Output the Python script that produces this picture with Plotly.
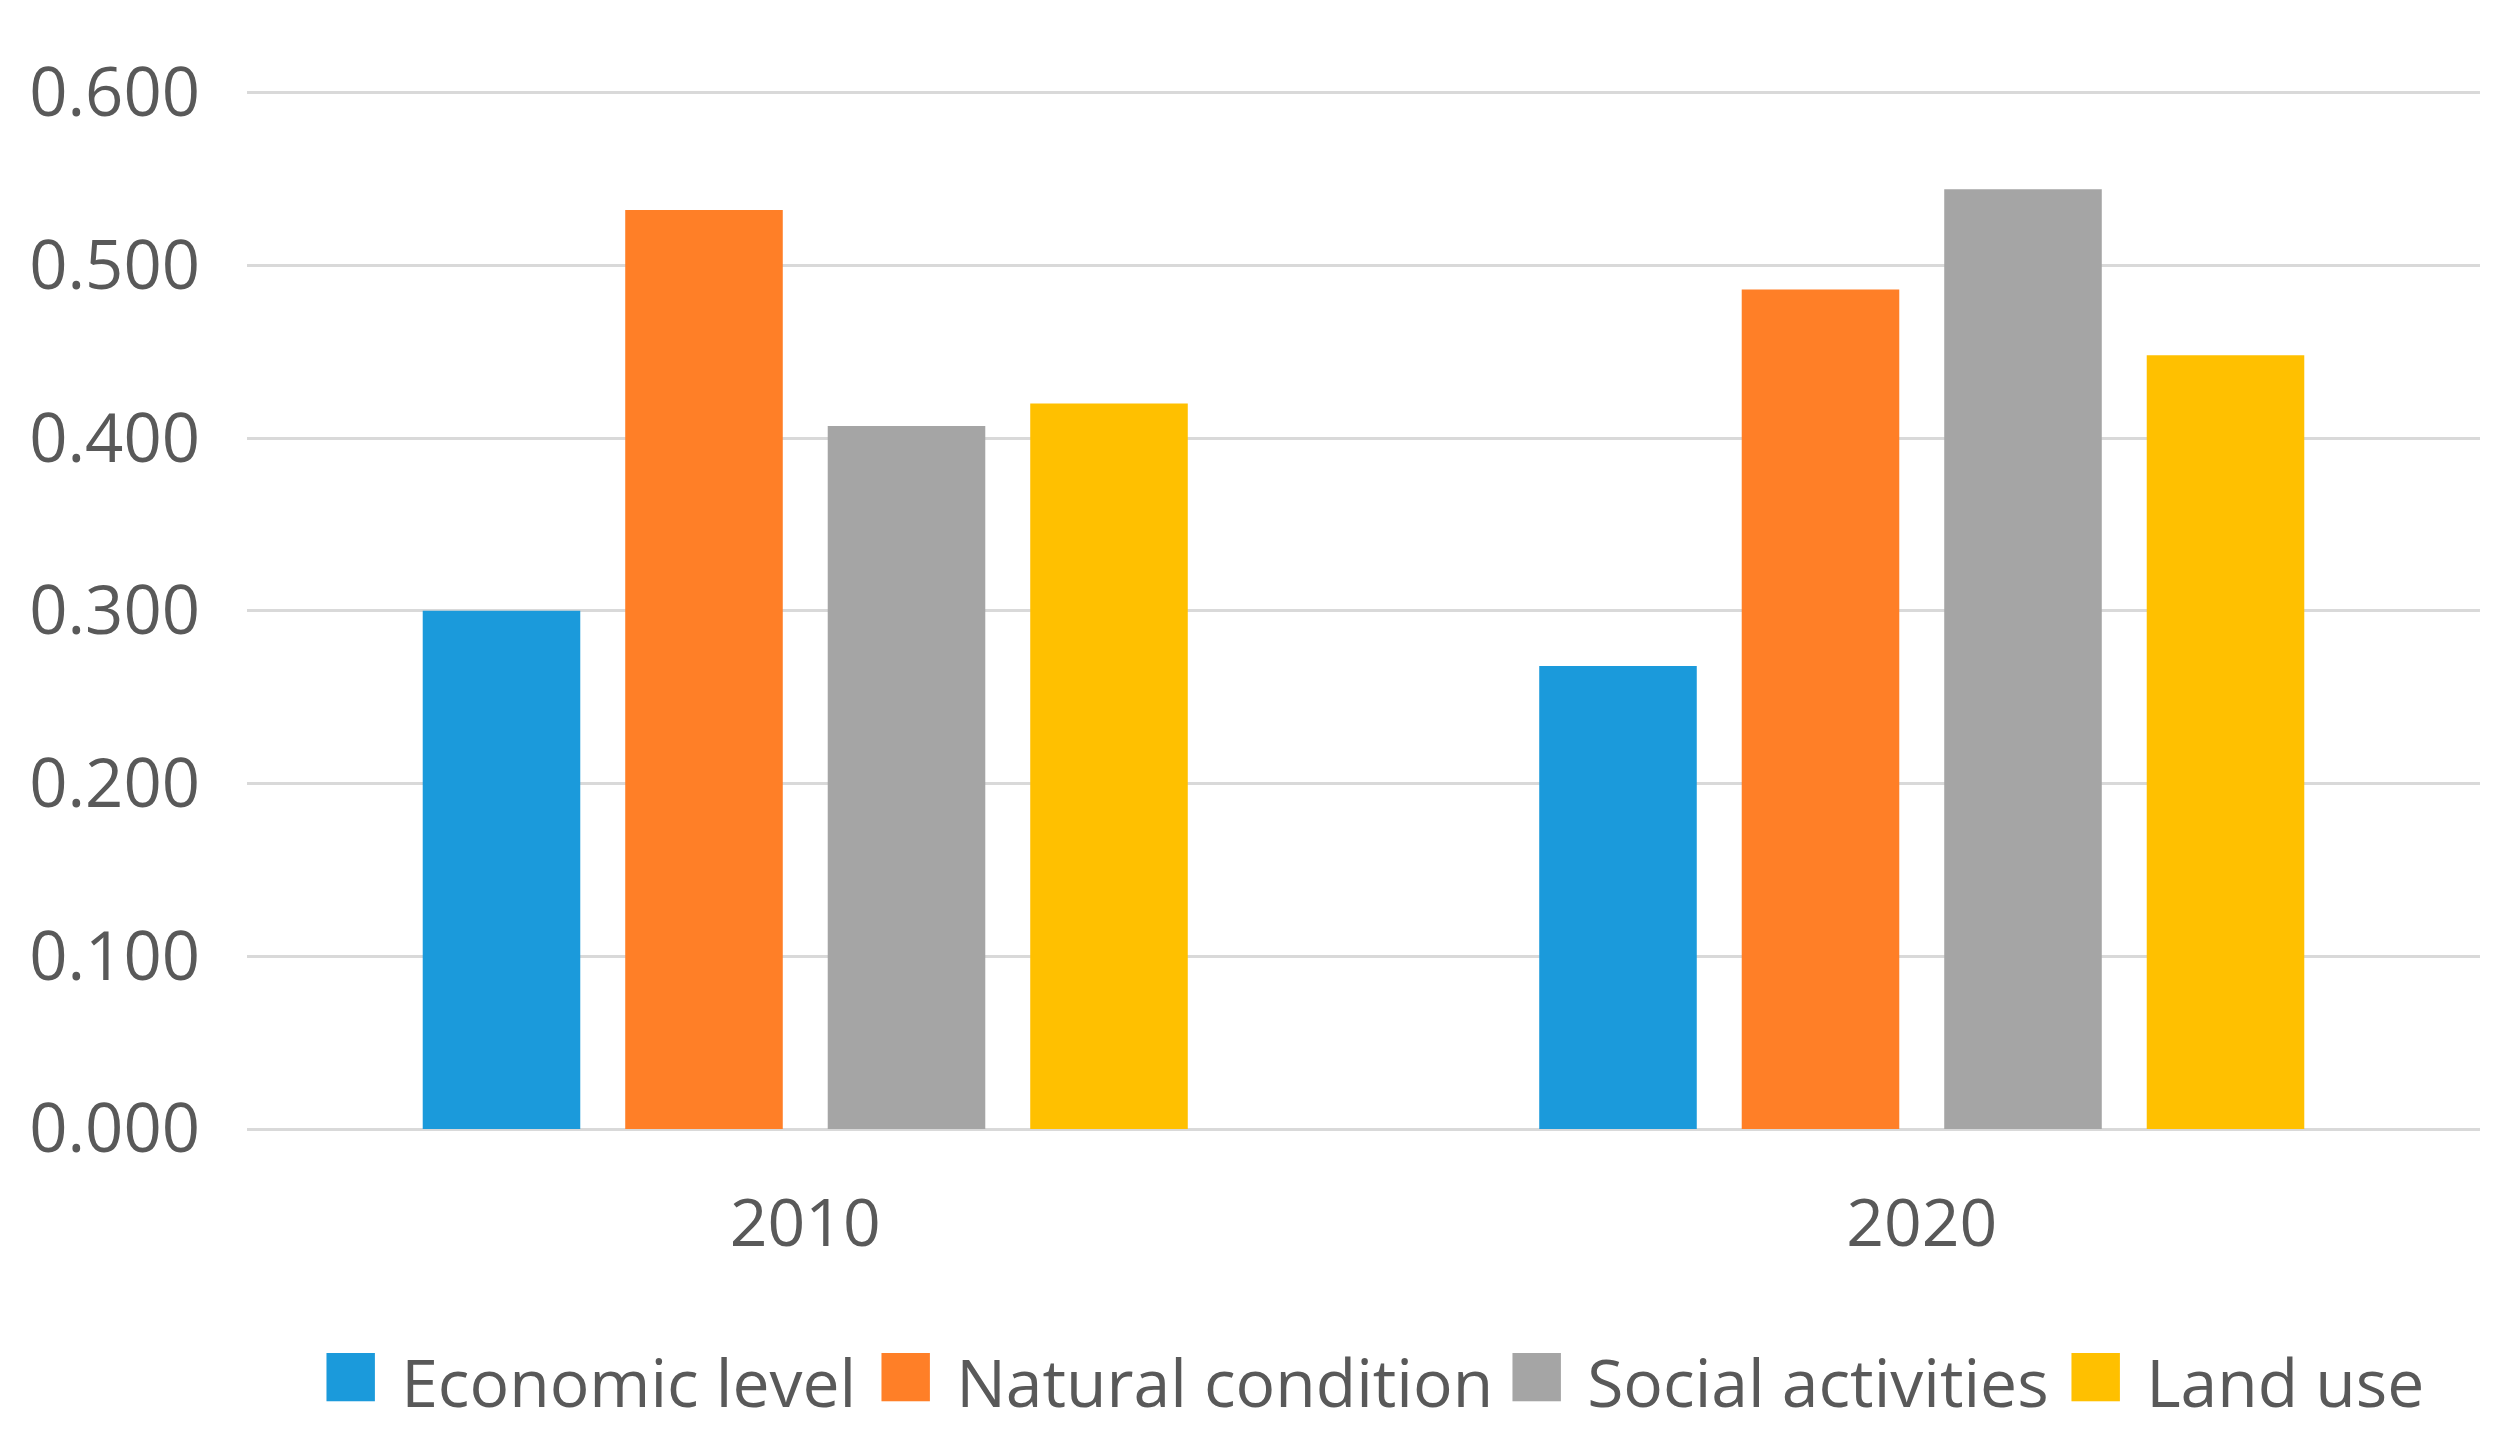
import plotly.graph_objects as go

years = ["2010", "2020"]
series_names = ["Economic level", "Natural condition", "Social activities", "Land use"]
economic_level = [0.300, 0.268]
natural_condition = [0.532, 0.486]
social_activities = [0.407, 0.544]
land_use = [0.420, 0.448]
y_ticks = [0.0, 0.1, 0.2, 0.3, 0.4, 0.5, 0.6]
y_tick_labels = ["0.000", "0.100", "0.200", "0.300", "0.400", "0.500", "0.600"]

colors = ["#1B9ADB", "#FF7F27", "#A5A5A5", "#FFC000"]
values = [economic_level, natural_condition, social_activities, land_use]
legend_entry_widths = [510, 586, 514, 360]  # px, layout only

FONT = "Open Sans"
TEXT_COLOR = "#595959"

fig = go.Figure()
for name, vals, col in zip(series_names, values, colors):
    fig.add_trace(go.Bar(x=years, y=vals, name=name, legendgroup=name, showlegend=False,
                         marker=dict(color=col, line=dict(width=0))))
# legend entries (large square key drawn as a coloured glyph in the entry text)
for name, col, lw in zip(series_names, colors, legend_entry_widths):
    fig.add_trace(go.Scatter(
        x=[None], y=[None], mode="markers", legendgroup=name, legendwidth=lw,
        name=(f'<span style="color:{col};font-size:100px">■</span>'
              f'<span style="font-size:78px"> </span>{name}'),
        marker=dict(color="rgba(0,0,0,0)", size=1), hoverinfo="skip"))

fig.update_layout(
    width=2509,
    height=1435,
    paper_bgcolor="white",
    plot_bgcolor="white",
    barmode="group",
    bargap=0.2745,
    bargroupgap=0.222,
    margin=dict(l=239, r=37, t=82, b=308),
    font=dict(family=FONT, size=66, color=TEXT_COLOR),
    showlegend=True,
    legend=dict(
        orientation="h",
        x=0.015, xanchor="left",
        y=-0.243, yanchor="middle",
        font=dict(family=FONT, size=66, color=TEXT_COLOR),
        itemwidth=30,
        traceorder="normal",
    ),
)
fig.update_xaxes(
    showgrid=False,
    showline=False,
    ticks="",
    ticklabelstandoff=50,
    tickfont=dict(family=FONT, size=66, color=TEXT_COLOR),
)
fig.update_yaxes(
    range=[0, 0.6015],
    tickvals=y_ticks,
    ticktext=y_tick_labels,
    showgrid=True,
    gridcolor="#D9D9D9",
    gridwidth=3,
    zeroline=True,
    zerolinecolor="#D9D9D9",
    zerolinewidth=3,
    showline=False,
    ticks="",
    ticklabelstandoff=46,
    tickfont=dict(family=FONT, size=67, color=TEXT_COLOR),
)

fig.write_html("out.html")
